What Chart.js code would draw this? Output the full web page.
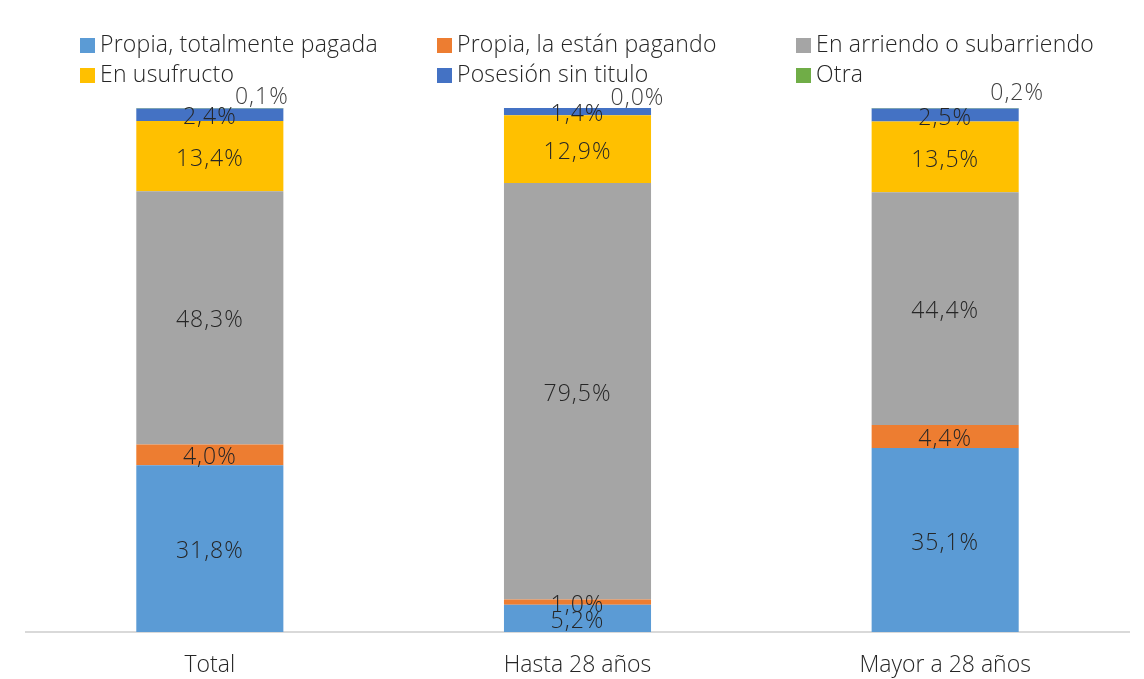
<!DOCTYPE html>
<html>
<head>
<meta charset="utf-8">
<script src="https://cdn.jsdelivr.net/npm/chart.js@4"></script>
<style>
  html,body{margin:0;padding:0;background:#fff;}
  #wrap{position:relative;width:1144px;height:679px;}
  canvas{position:absolute;left:0;top:0;}
  .lg{position:absolute;font-family:"Open Sans",sans-serif;font-weight:300;font-size:23px;letter-spacing:0.2px;color:#262626;line-height:30px;white-space:nowrap;}
  .lg span.box{display:inline-block;width:15px;height:15px;margin-right:5px;vertical-align:-1px;}
</style>
</head>
<body>
<div id="wrap">
<canvas id="c" width="1144" height="679"></canvas>
</div>
<script>
const categories = ["Total", "Hasta 28 años", "Mayor a 28 años"];
const seriesNames = ["Propia, totalmente pagada", "Propia, la están pagando", "En arriendo o subarriendo", "En usufructo", "Posesión sin titulo", "Otra"];
const propiaPagada = [31.8, 5.2, 35.1];
const propiaPagando = [4.0, 1.0, 4.4];
const arriendo = [48.3, 79.5, 44.4];
const usufructo = [13.4, 12.9, 13.5];
const posesion = [2.4, 1.4, 2.5];
const otra = [0.1, 0.0, 0.2];

const seriesValues = [propiaPagada, propiaPagando, arriendo, usufructo, posesion, otra];
const colors = ["#5B9BD5", "#ED7D31", "#A5A5A5", "#FFC000", "#4472C4", "#70AD47"];

// HTML legend (3 columns x 2 rows)
const legendCols = [80, 437, 796];
const legendRows = [28, 58];
const wrap = document.getElementById('wrap');
seriesNames.forEach((n, i) => {
  const d = document.createElement('div');
  d.className = 'lg';
  d.style.left = legendCols[i % 3] + 'px';
  d.style.top = legendRows[Math.floor(i / 3)] + 'px';
  d.innerHTML = '<span class="box" style="background:' + colors[i] + '"></span>' + n;
  wrap.appendChild(d);
});

const fmt = v => v.toFixed(1).replace('.', ',') + '%';
const otraOffsetX = [52, 60, 72];
const otraOffsetY = [-13, -12, -16];

const labelPlugin = {
  id: 'segLabels',
  afterDatasetsDraw(chart) {
    const ctx = chart.ctx;
    ctx.save();
    ctx.font = '300 23px "Open Sans", sans-serif';
    try { ctx.letterSpacing = '1px'; } catch (e) {}
    ctx.fillStyle = '#262626';
    ctx.textAlign = 'center';
    ctx.textBaseline = 'middle';
    chart.data.datasets.forEach((ds, di) => {
      const meta = chart.getDatasetMeta(di);
      meta.data.forEach((el, j) => {
        const v = ds.data[j];
        const p = el.getProps(['x', 'y', 'base'], true);
        if (di === chart.data.datasets.length - 1) {
          ctx.fillStyle = '#404040';
          ctx.fillText(fmt(v), p.x + otraOffsetX[j], p.y + otraOffsetY[j] + 2);
          ctx.fillStyle = '#262626';
        } else {
          ctx.fillText(fmt(v), p.x, (p.y + p.base) / 2 + 3);
        }
      });
    });
    ctx.restore();
  }
};

new Chart(document.getElementById('c'), {
  type: 'bar',
  data: {
    labels: categories,
    datasets: seriesNames.map((n, i) => ({
      label: n,
      data: seriesValues[i],
      backgroundColor: colors[i],
      borderWidth: 0,
      categoryPercentage: 1.0,
      barPercentage: 0.4
    }))
  },
  options: {
    responsive: false,
    animation: false,
    devicePixelRatio: 1,
    layout: { padding: { left: 26, right: 15, top: 108, bottom: 0 } },
    plugins: { legend: { display: false }, tooltip: { enabled: false } },
    scales: {
      x: {
        stacked: true,
        grid: { display: false, drawTicks: false },
        border: { display: true, color: '#D9D9D9', width: 2 },
        ticks: { color: '#262626', font: { family: '"Open Sans", sans-serif', weight: 300, size: 23 }, padding: 20 },
        afterFit(s) { s.height = 47; }
      },
      y: {
        stacked: true,
        display: false,
        min: 0,
        max: 100
      }
    }
  },
  plugins: [labelPlugin]
});
</script>
</body>
</html>
